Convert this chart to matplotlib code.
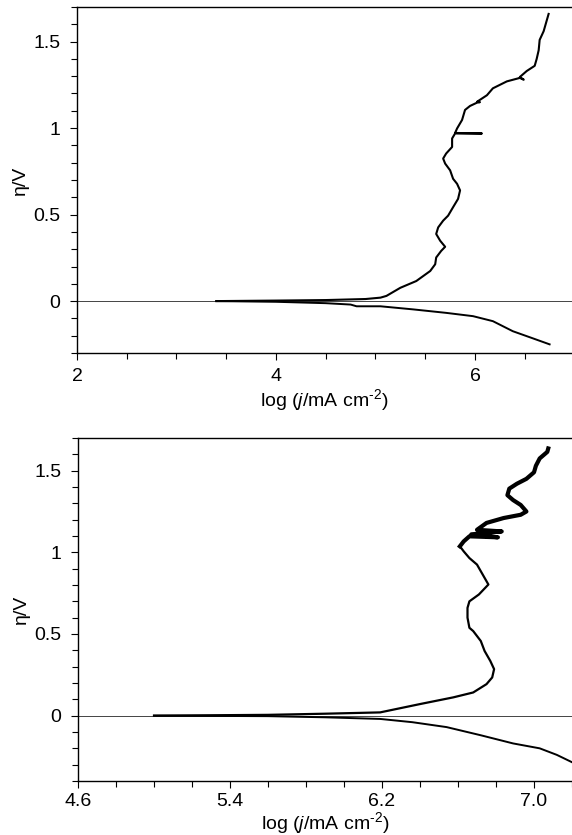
import matplotlib
matplotlib.use("Agg")
import matplotlib.pyplot as plt
from matplotlib.ticker import MultipleLocator, FixedLocator, FuncFormatter

plt.rcParams['font.family'] = ['Liberation Sans', 'DejaVu Sans']
plt.rcParams['mathtext.fontset'] = 'custom'
plt.rcParams['mathtext.rm'] = 'Liberation Sans'
plt.rcParams['mathtext.it'] = 'Liberation Sans:italic'

# top panel: anodic (upper) and cathodic (lower) branch, log j vs eta
top_up_x = [3.40, 4.00, 4.50, 4.90, 5.05, 5.11, 5.25, 5.41, 5.55, 5.60, 5.61, 5.66, 5.70, 5.65,
            5.61, 5.63, 5.68, 5.73, 5.78, 5.83, 5.85, 5.82, 5.78, 5.75, 5.70, 5.68, 5.71,
            5.77, 5.77, 5.80, 6.07, 5.80, 5.82, 5.87, 5.90, 5.95, 6.02, 6.05, 6.02, 6.12,
            6.18, 6.32, 6.45, 6.49, 6.45, 6.52, 6.60, 6.62, 6.64, 6.65, 6.69, 6.71, 6.74]
top_up_y = [0.000, 0.003, 0.006, 0.012, 0.020, 0.030, 0.077, 0.116, 0.174, 0.213, 0.252, 0.290,
            0.314, 0.349, 0.388, 0.426, 0.465, 0.494, 0.543, 0.591, 0.640, 0.678, 0.707, 0.756,
            0.795, 0.824, 0.853, 0.891, 0.940, 0.969, 0.969, 0.972, 0.998, 1.047, 1.105, 1.128,
            1.147, 1.150, 1.152, 1.190, 1.230, 1.270, 1.290, 1.280, 1.295, 1.330, 1.360, 1.400,
            1.450, 1.510, 1.560, 1.600, 1.660]
top_dn_x = [3.40, 4.00, 4.50, 4.75, 4.81, 5.05, 5.38, 5.71, 5.98, 6.18, 6.38, 6.59, 6.75]
top_dn_y = [0.000, -0.004, -0.012, -0.020, -0.030, -0.030, -0.048, -0.068, -0.087, -0.116,
            -0.174, -0.217, -0.250]

# bottom panel
bot_up_x = [5.00, 5.60, 5.90, 6.19, 6.40, 6.575, 6.68, 6.75, 6.78, 6.79, 6.77, 6.74, 6.72,
            6.68, 6.66, 6.65, 6.65, 6.66, 6.71, 6.76, 6.73, 6.70, 6.66, 6.63, 6.61, 6.63,
            6.66, 6.81, 6.67, 6.83, 6.70, 6.75, 6.84, 6.93, 6.96, 6.93, 6.89, 6.86, 6.87,
            6.91, 6.96, 7.00, 7.01, 7.03, 7.07, 7.075]
bot_up_y = [0.000, 0.005, 0.012, 0.020, 0.071, 0.112, 0.142, 0.193, 0.234, 0.285, 0.335,
            0.396, 0.457, 0.518, 0.538, 0.600, 0.660, 0.700, 0.742, 0.803, 0.864, 0.925,
            0.965, 1.006, 1.037, 1.067, 1.098, 1.092, 1.110, 1.128, 1.138, 1.180, 1.210,
            1.230, 1.250, 1.290, 1.320, 1.350, 1.390, 1.420, 1.450, 1.490, 1.530, 1.575,
            1.615, 1.636]
bot_dn_x = [5.00, 5.60, 5.90, 6.19, 6.36, 6.54, 6.72, 6.89, 7.03, 7.12, 7.20]
bot_dn_y = [0.000, -0.003, -0.010, -0.020, -0.040, -0.070, -0.120, -0.170, -0.200, -0.240, -0.285]

W, H = 572, 835
fig = plt.figure(figsize=(W / 100, H / 100), dpi=100)
ax1 = fig.add_axes([77 / W, 1 - 353 / H, (W - 77) / W, 346 / H])
ax2 = fig.add_axes([78 / W, 1 - 781 / H, (W - 78) / W, 343 / H])


def style(ax, xlim, ylim, xpad, xlabelpad):
    ax.set_xlim(*xlim)
    ax.set_ylim(*ylim)
    ax.spines['right'].set_visible(False)
    for s in ['left', 'top', 'bottom']:
        ax.spines[s].set_linewidth(1.0)
    ax.axhline(0, color='#444444', lw=0.7, zorder=1)
    ax.yaxis.set_major_locator(FixedLocator([0, 0.5, 1, 1.5]))
    ax.yaxis.set_minor_locator(MultipleLocator(0.1))
    ax.yaxis.set_major_formatter(FuncFormatter(lambda v, p: '%g' % v))
    ax.tick_params(which='both', direction='out', labelsize=14, width=0.8)
    ax.tick_params(axis='x', pad=xpad)
    ax.tick_params(axis='y', pad=7)
    ax.tick_params(which='major', length=5)
    ax.tick_params(which='minor', length=4)
    ax.set_ylabel('η/V', fontsize=14, labelpad=3)
    ax.set_xlabel(r'log ($\mathit{j}$/mA cm$^{\text{-2}}$)', fontsize=14, labelpad=xlabelpad)


ax1.plot(top_up_x, top_up_y, color='black', lw=1.5, zorder=3)
ax1.plot(top_dn_x, top_dn_y, color='black', lw=1.4, zorder=3)
style(ax1, (2, 6.975), (-0.3, 1.7), 6, 1)
ax1.xaxis.set_major_locator(FixedLocator([2, 4, 6]))
ax1.xaxis.set_minor_locator(MultipleLocator(0.5))

ax2.plot(bot_up_x, bot_up_y, color='black', lw=1.6, zorder=3)
# the upper, noisier stretch is drawn heavier
ax2.plot(bot_up_x[24:], bot_up_y[24:], color='black', lw=3.0, zorder=3)
ax2.plot(bot_dn_x, bot_dn_y, color='black', lw=1.4, zorder=3)
style(ax2, (4.6, 7.2), (-0.4, 1.7), 4, -0.5)
ax2.xaxis.set_major_locator(FixedLocator([4.6, 5.4, 6.2, 7.0]))
ax2.xaxis.set_minor_locator(MultipleLocator(0.2))
ax2.xaxis.set_major_formatter(FuncFormatter(lambda v, p: '%.1f' % v))

fig.savefig('out.png', dpi=100)
